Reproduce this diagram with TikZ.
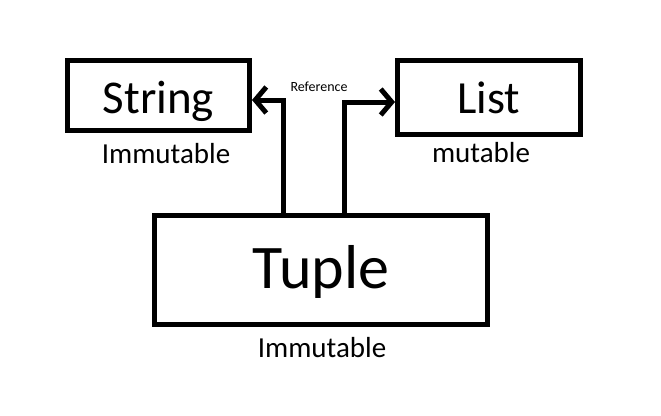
\documentclass[tikz,border=0pt]{standalone}
\usepackage{fontspec}
\setmainfont{Carlito}
\usetikzlibrary{arrows.meta}

\begin{document}
\begin{tikzpicture}[
                    x=1pt, y=-1pt,
                    box/.style={
                        rectangle,
                        draw,
                        line width=5pt,
                        inner sep=0pt,
                        text depth=0pt
                    },
                    note/.style={
                        anchor=base,
                        inner sep=0pt,
                        font=\fontsize{29}{30}\selectfont
                    },
                    ref/.style={
                        line width=5pt,
                        -{Straight Barb[length=11pt,width=26pt]}
                    }
                ]
                    \useasboundingbox (0,0) rectangle (661,415);
                    \node[box, minimum width=182pt, minimum height=70pt, text height=35pt,
                          font=\fontsize{47}{48}\selectfont] (string) at (158.5,95.5) {String};
                    \node[box, minimum width=183pt, minimum height=74pt, text height=31pt,
                          font=\fontsize{46}{47}\selectfont] (list) at (489,97.5) {List};
                    \node[box, minimum width=333pt, minimum height=109pt, text height=36pt,
                          font=\fontsize{62}{63}\selectfont] (tuple) at (321,270) {Tuple};
                    \node[note] (stringnote) at (166,163) {Immutable};
                    \node[note] (listnote) at (481,162) {mutable};
                    \node[note] (tuplenote) at (322,357) {Immutable};
                    \node[note, font=\fontsize{14}{15}\selectfont] (reflabel) at (319,91) {Reference};
                    
                    % Edges
                    \draw[ref] ([xshift=-38pt]tuple.north) |- ([yshift=-4.5pt]string.east);
                    \draw[ref] ([xshift=23.5pt]tuple.north) |- ([yshift=-4.5pt]list.west);
                \end{tikzpicture}
\end{document}
